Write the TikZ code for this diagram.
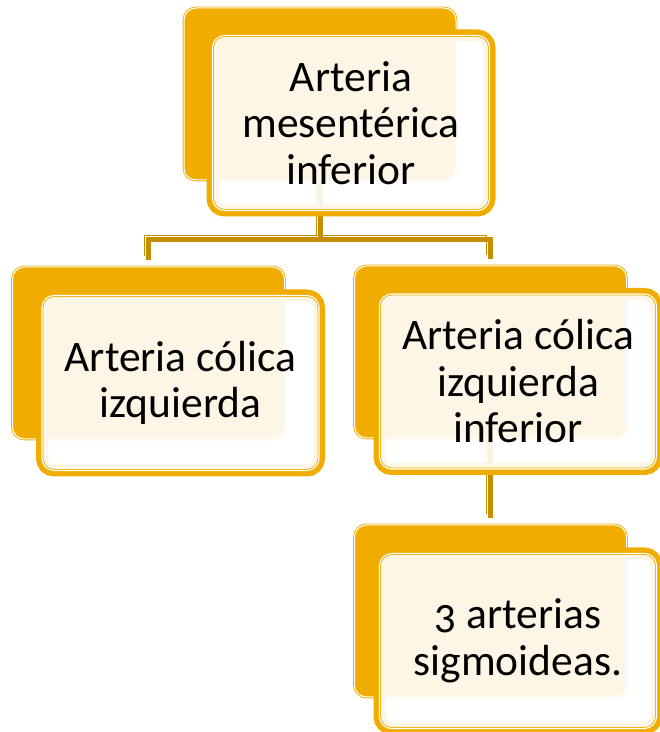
\documentclass[tikz,border=0pt]{standalone}
\usepackage{fontspec}
\setmainfont{Carlito}[Numbers=OldStyle]
\usepackage{tikz}

\definecolor{oro}{RGB}{240,173,0}
\definecolor{orooscuro}{RGB}{196,142,0}

\tikzset{
  backbox/.style={rectangle, rounded corners=12pt, draw=oro, line width=0.9pt,
    double=white, double distance=1pt, fill=oro,
    minimum width=272pt, minimum height=172pt},
  frontbox/.style={rectangle, rounded corners=12pt,
    preaction={draw=oro, line width=12pt},
    draw=oro, line width=0.9pt, double=white, double distance=1.1pt,
    fill=white, fill opacity=0.9, text opacity=1,
    minimum width=277pt, minimum height=175pt, inner sep=0pt,
    align=center, font=\fontsize{43.5}{46.5}\selectfont},
  joiner/.style={draw=orooscuro, line width=5pt, shorten >=7pt},
  joinerthin/.style={draw=orooscuro, line width=1pt, shorten >=7pt,
    transform canvas={shift={(-4pt,4pt)}}}
}

\begin{document}
\begin{tikzpicture}[x=1pt,y=1pt]
\useasboundingbox (0,0) rectangle (660,732);

% cajas de fondo
\node[backbox] (mesback) at (320,638) {};
\node[backbox] (izqback) at (148.5,379) {};
\node[backbox] (infback) at (490.5,380) {};
\node[backbox] (sigback) at (490.5,121) {};

% uniones
\coordinate (barra) at (322,492);
\draw[joinerthin] (mesback.south) -- (mesback.south |- barra) -| (izqback.north);
\draw[joinerthin] (mesback.south |- barra) -| (infback.north);
\draw[joinerthin] (infback.south) -- (sigback.north);
\draw[joiner] (mesback.south) -- (mesback.south |- barra) -| (izqback.north);
\draw[joiner] (mesback.south |- barra) -| (infback.north);
\draw[joiner] (infback.south) -- (sigback.north);

% cajas con texto
\node[frontbox] (mes) at (351,609) {Arteria\\mesentérica\\inferior};
\node[frontbox] (izq) at (180.5,349) {Arteria cólica\\izquierda};
\node[frontbox] (inf) at (518,350.5) {Arteria cólica\\izquierda\\inferior};
\node[frontbox] (sig) at (518,91) {3 arterias\\sigmoideas.};
\end{tikzpicture}
\end{document}
